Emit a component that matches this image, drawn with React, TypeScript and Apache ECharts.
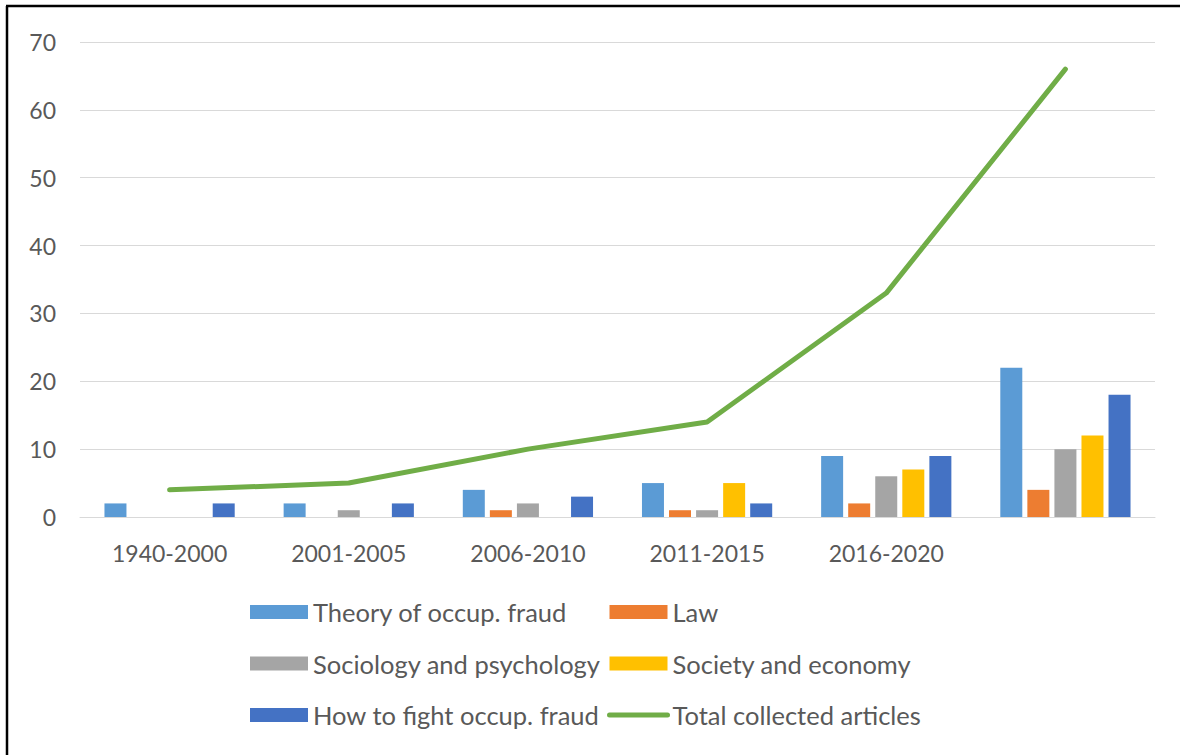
import React, { useEffect, useRef } from "react";
import * as echarts from "echarts";

const categories = ["1940-2000", "2001-2005", "2006-2010", "2011-2015", "2016-2020", ""];
const theory = [2, 2, 4, 5, 9, 22];
const law = [0, 0, 1, 1, 2, 4];
const sociology = [0, 1, 2, 1, 6, 10];
const society = [0, 0, 0, 5, 7, 12];
const fight = [2, 2, 3, 2, 9, 18];
const total = [4, 5, 10, 14, 33, 66];
const yTicks = { min: 0, max: 70, interval: 10 };

const FONT = "Lato";
const TEXT = "#595959";

export default function App() {
  const ref = useRef<HTMLDivElement>(null);
  useEffect(() => {
    document.body.style.margin = "0";
    const chart = echarts.init(ref.current!, null, { renderer: "svg" });
    const bar = (name: string, data: number[], color: string) => ({
      name,
      type: "bar",
      data,
      barWidth: 22,
      barGap: "23%",
      itemStyle: { color },
    });
    const legendText = { color: TEXT, fontSize: 25.5, lineHeight: 24, fontFamily: FONT };
    chart.setOption({
      animation: false,
      backgroundColor: "#ffffff",
      textStyle: { fontFamily: FONT },
      grid: { left: 80, right: 25, top: 42, bottom: 238, containLabel: false },
      xAxis: {
        type: "category",
        data: categories,
        axisLine: { lineStyle: { color: "#D9D9D9", width: 1 } },
        axisTick: { show: false },
        axisLabel: { color: TEXT, fontSize: 23, margin: 24, fontFamily: FONT },
      },
      yAxis: {
        type: "value",
        min: yTicks.min,
        max: yTicks.max,
        interval: yTicks.interval,
        axisLine: { show: false },
        axisTick: { show: false },
        splitLine: { lineStyle: { color: "#D9D9D9", width: 1 } },
        axisLabel: { color: TEXT, fontSize: 23, margin: 24, fontFamily: FONT },
      },
      legend: [
        {
          orient: "vertical",
          left: 250,
          top: 599,
          padding: 0,
          itemWidth: 58,
          itemHeight: 14,
          itemGap: 25.5,
          icon: "rect",
          textStyle: legendText,
          data: ["Theory of occup. fraud", "Sociology and psychology", "How to fight occup. fraud"],
        },
        {
          orient: "vertical",
          left: 607,
          top: 599,
          padding: 0,
          itemWidth: 58,
          itemHeight: 14,
          itemGap: 25.5,
          textStyle: legendText,
          lineStyle: { width: 5, cap: "round" },
          data: [
            { name: "Law", icon: "rect" },
            { name: "Society and economy", icon: "rect" },
            { name: "Total collected articles", itemStyle: { opacity: 0 }, lineStyle: { width: 5, cap: "round" } },
          ],
        },
      ],
      graphic: [
        { type: "line", shape: { x1: 7, y1: 6, x2: 7, y2: 755 }, style: { stroke: "#000", lineWidth: 2.5 } },
        { type: "line", shape: { x1: 6, y1: 6, x2: 1180, y2: 6 }, style: { stroke: "#000", lineWidth: 2.5 } },
      ],
      series: [
        bar("Theory of occup. fraud", theory, "#5B9BD5"),
        bar("Law", law, "#ED7D31"),
        bar("Sociology and psychology", sociology, "#A5A5A5"),
        bar("Society and economy", society, "#FFC000"),
        bar("How to fight occup. fraud", fight, "#4472C4"),
        {
          name: "Total collected articles",
          type: "line",
          data: total,
          symbol: "none",
          lineStyle: { color: "#70AD47", width: 5, cap: "round" },
          itemStyle: { color: "#70AD47" },
          z: 5,
        },
      ],
    });
    return () => chart.dispose();
  }, []);
  return <div ref={ref} style={{ width: 1180, height: 755 }} />;
}
